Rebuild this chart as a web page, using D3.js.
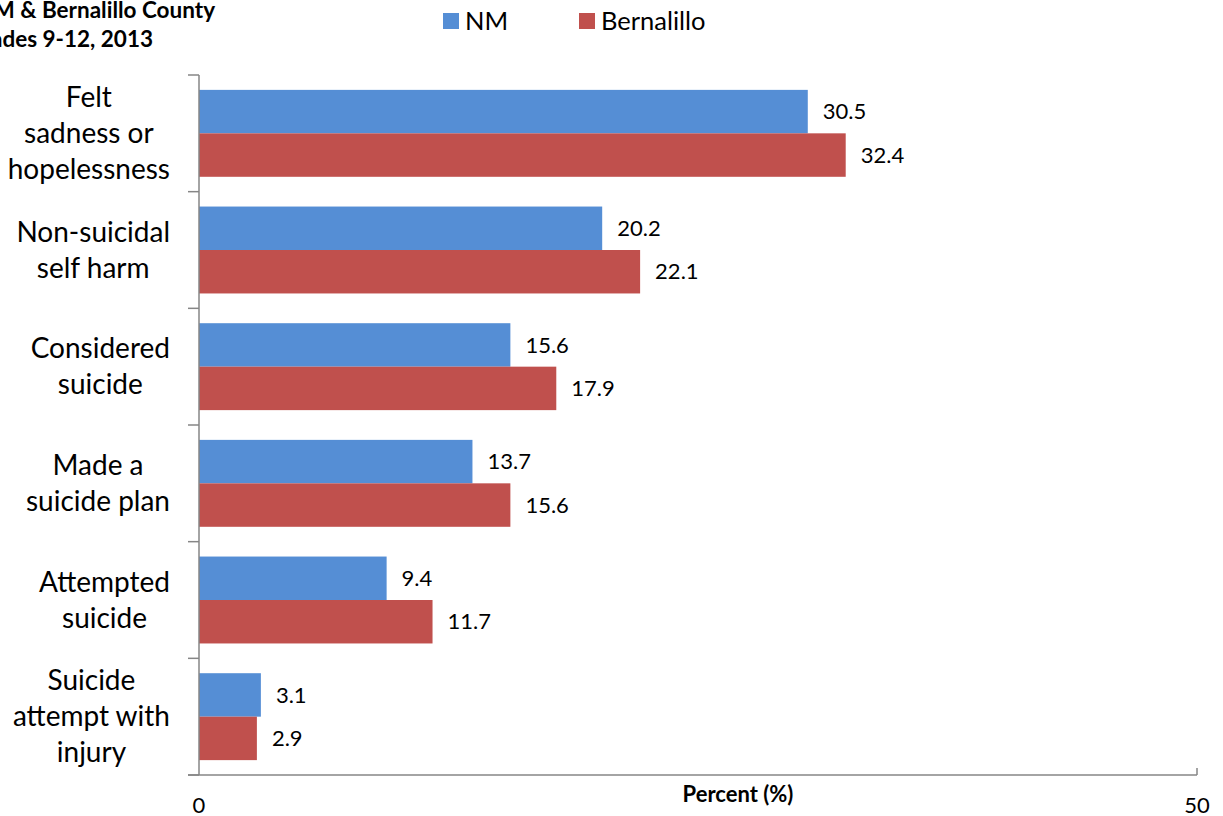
<!DOCTYPE html>
<html>
<head>
<meta charset="utf-8">
<script src="https://cdn.jsdelivr.net/npm/d3@7"></script>
<style>
html,body{margin:0;padding:0;background:#fff;}
svg{display:block;font-family:Lato, "Open Sans", sans-serif;}
</style>
</head>
<body>
<svg id="chart" width="1223" height="816"></svg>
<script>
const categories = ["Felt\nsadness or\nhopelessness","Non-suicidal\nself harm","Considered\nsuicide","Made a\nsuicide plan","Attempted\nsuicide","Suicide\nattempt with\ninjury"];
const seriesNames = ["NM","Bernalillo"];
const nmValues = [30.5,20.2,15.6,13.7,9.4,3.1];
const bernalilloValues = [32.4,22.1,17.9,15.6,11.7,2.9];
const xTicks = [0,50];
const titleLines = ["NM & Bernalillo County","Grades 9-12, 2013"];
const colors = ["#558ED5","#C0504D"];

(function(){
const svg = d3.select("#chart");
const plotLeft = 199, plotRight = 1197, plotTop = 75, plotBottom = 775;

const x = d3.scaleLinear().domain([0,50]).range([plotLeft,plotRight]);
const y = d3.scaleBand().domain(categories).range([plotTop,plotBottom]).padding(0);
const groupFrac = 0.745;
const sub = d3.scaleBand().domain(seriesNames).range([0, y.bandwidth()*groupFrac]).padding(0);
const groupOffset = y.bandwidth()*(1-groupFrac)/2;

const data = categories.map((c,i)=>({cat:c, vals:[nmValues[i], bernalilloValues[i]]}));

// bars
const g = svg.append("g");
data.forEach(d=>{
  d.vals.forEach((v,j)=>{
    const yy = y(d.cat)+groupOffset+sub(seriesNames[j]);
    g.append("rect").attr("x",x(0)).attr("y",yy).attr("width",x(v)-x(0)).attr("height",sub.bandwidth()).attr("fill",colors[j]);
    g.append("text").attr("x",x(v)+15).attr("y",yy+sub.bandwidth()/2).attr("dy","0.35em")
      .attr("font-size",22).attr("fill","#000").text(v.toFixed(1));
  });
});

// axes
const axisColor = "#868686";
svg.append("line").attr("x1",plotLeft).attr("x2",plotLeft).attr("y1",plotTop).attr("y2",plotBottom).attr("stroke",axisColor).attr("stroke-width",1.5);
svg.append("line").attr("x1",plotLeft-11).attr("x2",plotRight).attr("y1",plotBottom).attr("y2",plotBottom).attr("stroke",axisColor).attr("stroke-width",1.5);
const tickYs = categories.map(c=>y(c)).concat([plotBottom]);
tickYs.forEach(t=>{
  svg.append("line").attr("x1",plotLeft-11).attr("x2",plotLeft).attr("y1",t).attr("y2",t).attr("stroke",axisColor).attr("stroke-width",1.5);
});
svg.append("line").attr("x1",x(50)).attr("x2",x(50)).attr("y1",plotBottom-7).attr("y2",plotBottom).attr("stroke",axisColor).attr("stroke-width",1.5);
xTicks.forEach(t=>{
  svg.append("text").attr("x",x(t)).attr("y",813).attr("text-anchor","middle").attr("font-size",22).attr("fill","#000").text(t);
});
svg.append("text").attr("x",738).attr("y",802).attr("text-anchor","middle").attr("font-size",22).attr("font-weight","bold").text("Percent (%)");

// category labels
const lh = 36;
data.forEach(d=>{
  const lines = d.cat.split("\n");
  const cy = y(d.cat)+y.bandwidth()/2;
  const t = svg.append("text").attr("font-size",28).attr("fill","#000").attr("text-anchor","middle");
  const tsp = lines.map((ln,k)=>t.append("tspan").attr("x",0).attr("y",cy + (k-(lines.length-1)/2)*lh).attr("dy","0.35em").text(ln));
  const maxW = d3.max(tsp, s=>s.node().getComputedTextLength());
  tsp.forEach(s=>s.attr("x",170-maxW/2));
});

// legend
const legendX = [443,579];
seriesNames.forEach((n,j)=>{
  svg.append("rect").attr("x",legendX[j]).attr("y",13).attr("width",16).attr("height",16).attr("fill",colors[j]);
  svg.append("text").attr("x",legendX[j]+22).attr("y",21).attr("dy","0.35em").attr("font-size",25.5).text(n);
});

// title (clipped at left edge, as in the reference)
const titleEnds = [215,153];
titleLines.forEach((t,k)=>{
  svg.append("text").attr("x",titleEnds[k]).attr("y",18+k*29).attr("text-anchor","end").attr("font-size",22.5).attr("font-weight","bold").text(t);
});
})();
</script>
</body>
</html>
